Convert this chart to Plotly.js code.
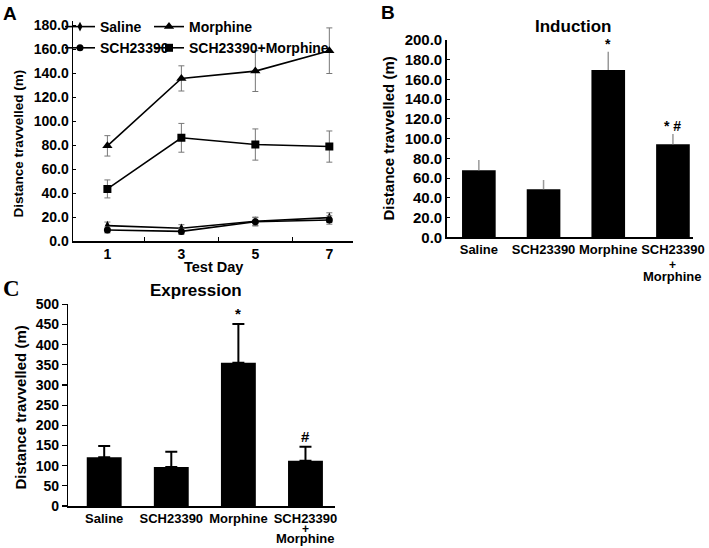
<!DOCTYPE html>
<html>
<head>
<meta charset="utf-8">
<script src="https://cdn.plot.ly/plotly-3.0.1.min.js"></script>
<style>html,body{margin:0;padding:0;background:#fff;}#chart{width:709px;height:548px;}</style>
</head>
<body>
<div id="chart"></div>
<script>
// Panel A: locomotion over test days
const days = [1, 3, 5, 7];
const saline = [12.8, 10.6, 16.4, 19.5];
const salineErr = [3, 3, 3.5, 4];
const sch = [9.2, 8.0, 16.0, 17.5];
const schErr = [2.5, 2.5, 3.5, 3.5];
const morphine = [79.3, 135.5, 141.6, 158.6];
const morphineErr = [8.5, 10.5, 17, 19];
const schMorphine = [43.4, 86.0, 80.4, 78.7];
const schMorphineErr = [7.5, 12, 13, 13];
const dayTickVals = [1, 3, 5, 7];
const dayTickText = ['1', '3', '5', '7'];
const dayMinorTicks = [2, 4, 6];
const aTickVals = [0, 20, 40, 60, 80, 100, 120, 140, 160, 180];
const aTickText = ['0.0', '20.0', '40.0', '60.0', '80.0', '100.0', '120.0', '140.0', '160.0', '180.0'];

// Panels B & C: bar charts
const groups = ['Saline', 'SCH23390', 'Morphine', 'SCH23390 + Morphine'];
const groupLabelLines = [['Saline'], ['SCH23390'], ['Morphine'], ['SCH23390', '+', 'Morphine']];
const induction = [67.9, 48.6, 169.6, 94.3];
const inductionErr = [10.5, 9.5, 18.6, 10.4];
const inductionMarks = ['', '', '*', '* #'];
const bTickVals = [0, 20, 40, 60, 80, 100, 120, 140, 160, 180, 200];
const bTickText = ['0.0', '20.0', '40.0', '60.0', '80.0', '100.0', '120.0', '140.0', '160.0', '180.0', '200.0'];
const expression = [120.7, 96.7, 355.4, 112.4];
const expressionErr = [28.1, 38, 95.8, 34.7];
const expressionMarks = ['', '', '*', '#'];
const cTickVals = [0, 50, 100, 150, 200, 250, 300, 350, 400, 450, 500];

const FONT = 'Liberation Sans, Arial, sans-serif';
const W = 709, H = 548;
const px = v => v / W;
const py = v => 1 - v / H;
const bold = (size, family) => ({family: family || FONT, size: size, color: '#000', weight: 'bold'});

function lineTrace(name, y, err, symbol, size, legend) {
  return {
    type: 'scatter', mode: 'lines+markers', name: name, x: days, y: y,
    xaxis: 'x', yaxis: 'y', legend: legend,
    line: {color: '#000', width: 1.6},
    marker: {symbol: symbol, size: size, color: '#000'},
    error_y: {type: 'data', array: err, visible: true, color: '#777', thickness: 1, width: 3}
  };
}

const zeros = groups.map(() => 0);
const traces = [
  lineTrace('Saline', saline, salineErr, 'diamond-tall', 7, 'legend'),
  lineTrace('SCH23390', sch, schErr, 'circle', 7, 'legend'),
  lineTrace('Morphine', morphine, morphineErr, 'triangle-up', 9, 'legend2'),
  lineTrace('SCH23390+Morphine', schMorphine, schMorphineErr, 'square', 8, 'legend2'),
  {
    type: 'bar', x: groups, y: induction, xaxis: 'x2', yaxis: 'y2', showlegend: false,
    width: 0.52, marker: {color: '#000', line: {width: 0}},
    error_y: {type: 'data', symmetric: false, array: inductionErr, arrayminus: zeros, visible: true, color: '#999', thickness: 1.5, width: 0}
  },
  {
    type: 'bar', x: groups, y: expression, xaxis: 'x3', yaxis: 'y3', showlegend: false,
    width: 0.52, marker: {color: '#000', line: {width: 0}},
    error_y: {type: 'data', symmetric: false, array: expressionErr, arrayminus: zeros, visible: true, color: '#000', thickness: 2, width: 6}
  }
];

const axisBase = {showline: true, linecolor: '#000', linewidth: 1.5, showgrid: false, zeroline: false, fixedrange: true};

const annotations = [];
function txt(text, x, y, font, extra) {
  annotations.push(Object.assign({text: text, x: px(x), y: py(y), xref: 'paper', yref: 'paper', showarrow: false, font: font, xanchor: 'center', yanchor: 'middle'}, extra || {}));
}
txt('A', 10, 13.5, bold(19));
txt('B', 388, 12.5, bold(19));
txt('C', 11, 288, bold(23, 'Liberation Serif, Times New Roman, serif'));
txt('Distance travvelled (m)', 18, 143.5, bold(13.5), {textangle: -90});
txt('Test Day', 214, 266.7, bold(14.5));
txt('Induction', 573, 26.7, bold(17));
txt('Distance travvelled (m)', 388, 138.5, bold(15), {textangle: -90});
txt('Expression', 196, 290.7, bold(17));
txt('Distance travvelled (m)', 20, 407.5, bold(15), {textangle: -90});

// extra lines of the stacked category label (tight spacing as in the figure)
const extraLineY = {x2: [265, 276.5], x3: [528.5, 538]};
['x2', 'x3'].forEach(ax => {
  groupLabelLines.forEach((lines, i) => {
    lines.slice(1).forEach((t, k) => {
      annotations.push({text: t, x: groups[i], xref: ax, y: py(extraLineY[ax][k]), yref: 'paper', showarrow: false, xanchor: 'center', yanchor: 'middle', font: bold(t === '+' ? 12 : 13)});
    });
  });
});

groups.forEach((g, i) => {
  if (inductionMarks[i]) annotations.push({text: inductionMarks[i], x: g, y: induction[i] + inductionErr[i], xref: 'x2', yref: 'y2', showarrow: false, yanchor: 'bottom', yshift: -2, font: bold(14)});
  if (expressionMarks[i]) annotations.push({text: expressionMarks[i], x: g, y: expression[i] + expressionErr[i], xref: 'x3', yref: 'y3', showarrow: false, yanchor: 'bottom', yshift: 0, font: bold(15)});
});

const firstLines = groupLabelLines.map(l => l[0]);

const layout = {
  width: W, height: H,
  margin: {l: 0, r: 0, t: 0, b: 0},
  paper_bgcolor: '#fff', plot_bgcolor: 'rgba(0,0,0,0)',
  font: bold(14),
  showlegend: true,
  legend: {x: px(60), y: py(11), xanchor: 'left', yanchor: 'top', bgcolor: 'rgba(0,0,0,0)', font: bold(14), tracegroupgap: 0, itemclick: false},
  legend2: {x: px(149), y: py(11), xanchor: 'left', yanchor: 'top', bgcolor: 'rgba(0,0,0,0)', font: bold(14), tracegroupgap: 0, itemclick: false},
  xaxis: Object.assign({}, axisBase, {
    domain: [px(73), px(353)], range: [0.07, 7.64], anchor: 'y',
    tickmode: 'array', tickvals: dayTickVals, ticktext: dayTickText, ticks: '', tickfont: bold(14),
    minor: {tickmode: 'array', tickvals: dayMinorTicks, ticks: 'inside', ticklen: 4, tickwidth: 1.2, tickcolor: '#000'}
  }),
  yaxis: Object.assign({}, axisBase, {
    domain: [py(241), py(20.7)], range: [0, 183.6], anchor: 'x',
    tickmode: 'array', tickvals: aTickVals, ticktext: aTickText, ticks: 'inside', ticklen: 3, tickwidth: 1, tickcolor: '#000', tickfont: bold(14)
  }),
  xaxis2: Object.assign({}, axisBase, {
    domain: [px(446.7), px(693)], range: [-0.497, 3.31], anchor: 'y2', type: 'category',
    tickmode: 'array', tickvals: groups, ticktext: firstLines, ticks: '', tickfont: bold(13)
  }),
  yaxis2: Object.assign({}, axisBase, {
    domain: [py(237.3), py(40)], range: [0, 200], anchor: 'x2',
    tickmode: 'array', tickvals: bTickVals, ticktext: bTickText, ticks: 'inside', ticklen: 3, tickwidth: 1, tickcolor: '#000', tickfont: bold(15)
  }),
  xaxis3: Object.assign({}, axisBase, {
    domain: [px(68.3), px(335)], range: [-0.535, 3.44], anchor: 'y3', type: 'category',
    tickmode: 'array', tickvals: groups, ticktext: firstLines, ticks: '', tickfont: bold(13)
  }),
  yaxis3: Object.assign({}, axisBase, {
    domain: [py(506), py(304.3)], range: [0, 500], anchor: 'x3',
    tickmode: 'array', tickvals: cTickVals, ticks: 'outside', ticklen: 5, tickwidth: 1.2, tickcolor: '#000', tickfont: bold(14)
  }),
  annotations: annotations
};

Plotly.newPlot('chart', traces, layout, {staticPlot: true, displayModeBar: false});
</script>
</body>
</html>
